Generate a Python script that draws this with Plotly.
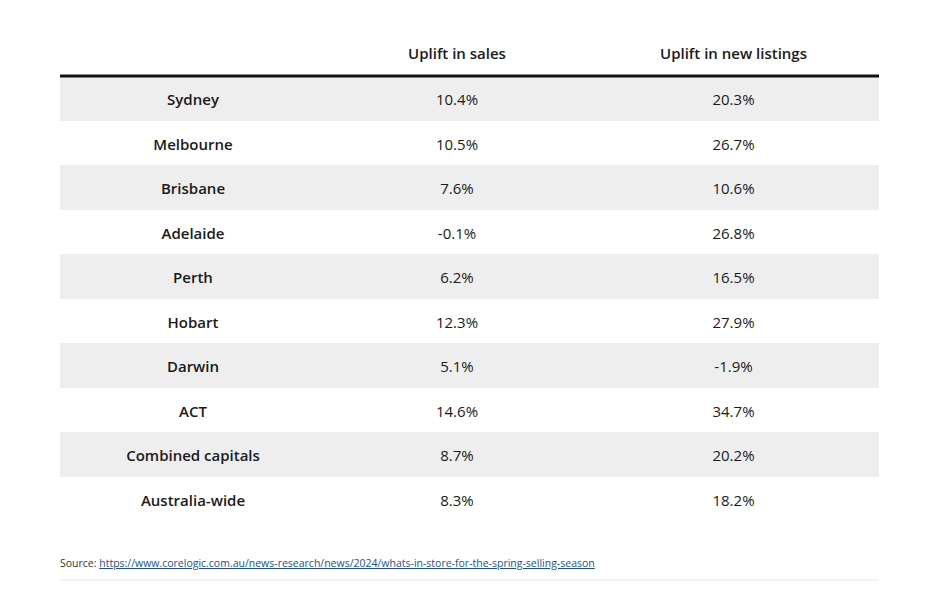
import plotly.graph_objects as go

cities = ["Sydney", "Melbourne", "Brisbane", "Adelaide", "Perth", "Hobart",
          "Darwin", "ACT", "Combined capitals", "Australia-wide"]
sales_uplift = ["10.4%", "10.5%", "7.6%", "-0.1%", "6.2%", "12.3%",
                "5.1%", "14.6%", "8.7%", "8.3%"]
listings_uplift = ["20.3%", "26.7%", "10.6%", "26.8%", "16.5%", "27.9%",
                   "-1.9%", "34.7%", "20.2%", "18.2%"]
headers = ["", "Uplift in sales", "Uplift in new listings"]
source_url = "https://www.corelogic.com.au/news-research/news/2024/whats-in-store-for-the-spring-selling-season"

W, H = 950, 598
left, right = 60, 879
top = 30
header_h = 46
row_h = 44.5
col_w = [266, 262, 291]
# vertical text shift (plotly tables have no vertical centring)
hdr_shift = 10
cell_shift = 10

row_fill = ["#eeeeee" if i % 2 == 0 else "#ffffff" for i in range(len(cities))]
txt = "#1a1a1a"
none_line = dict(color="rgba(0,0,0,0)", width=0)
fsize = 15

# background table: row fills
blank = [""] * len(cities)
fig = go.Figure(go.Table(
    columnwidth=col_w,
    header=dict(values=["", "", ""], fill_color="#ffffff", line=none_line,
                height=header_h),
    cells=dict(values=[blank, blank, blank],
               fill_color=[row_fill, row_fill, row_fill],
               line=none_line, height=row_h),
    domain=dict(x=[left / W, right / W], y=[0, 1 - top / H]),
))

# text table, offset so text sits centred in the rows
fig.add_trace(go.Table(
    columnwidth=col_w,
    header=dict(
        values=headers,
        fill_color="rgba(0,0,0,0)",
        line=none_line,
        align="center",
        height=header_h - hdr_shift + cell_shift,
        font=dict(family="Open Sans", size=fsize, color=txt, weight=600),
    ),
    cells=dict(
        values=[cities, sales_uplift, listings_uplift],
        fill_color="rgba(0,0,0,0)",
        line=none_line,
        align="center",
        height=row_h,
        font=dict(family="Open Sans", size=fsize, color=txt,
                  weight=[600, 400, 400]),
    ),
    domain=dict(x=[left / W, right / W], y=[0, 1 - (top + hdr_shift) / H]),
))

header_line_y = 1 - (top + header_h) / H
fig.add_shape(type="line", xref="paper", yref="paper",
              x0=left / W, x1=right / W, y0=header_line_y, y1=header_line_y,
              line=dict(color="#111111", width=3))
fig.add_shape(type="line", xref="paper", yref="paper",
              x0=left / W, x1=right / W, y0=1 - 580 / H, y1=1 - 580 / H,
              line=dict(color="#e6e6e6", width=1))

fig.add_annotation(
    xref="paper", yref="paper", x=58 / W, y=1 - 563 / H,
    xanchor="left", yanchor="middle", showarrow=False,
    text=("Source: <a href='" + source_url + "'>"
          "<span style='color:#1d4f91;text-decoration:underline'>" + source_url + "</span></a>"),
    font=dict(family="Open Sans", size=10.5, color="#333333"),
)

fig.update_layout(width=W, height=H, margin=dict(l=0, r=0, t=0, b=0),
                  paper_bgcolor="#ffffff", plot_bgcolor="#ffffff")

fig.write_html("out.html", config={"displayModeBar": False},
               post_script="document.body.style.margin='0';")
